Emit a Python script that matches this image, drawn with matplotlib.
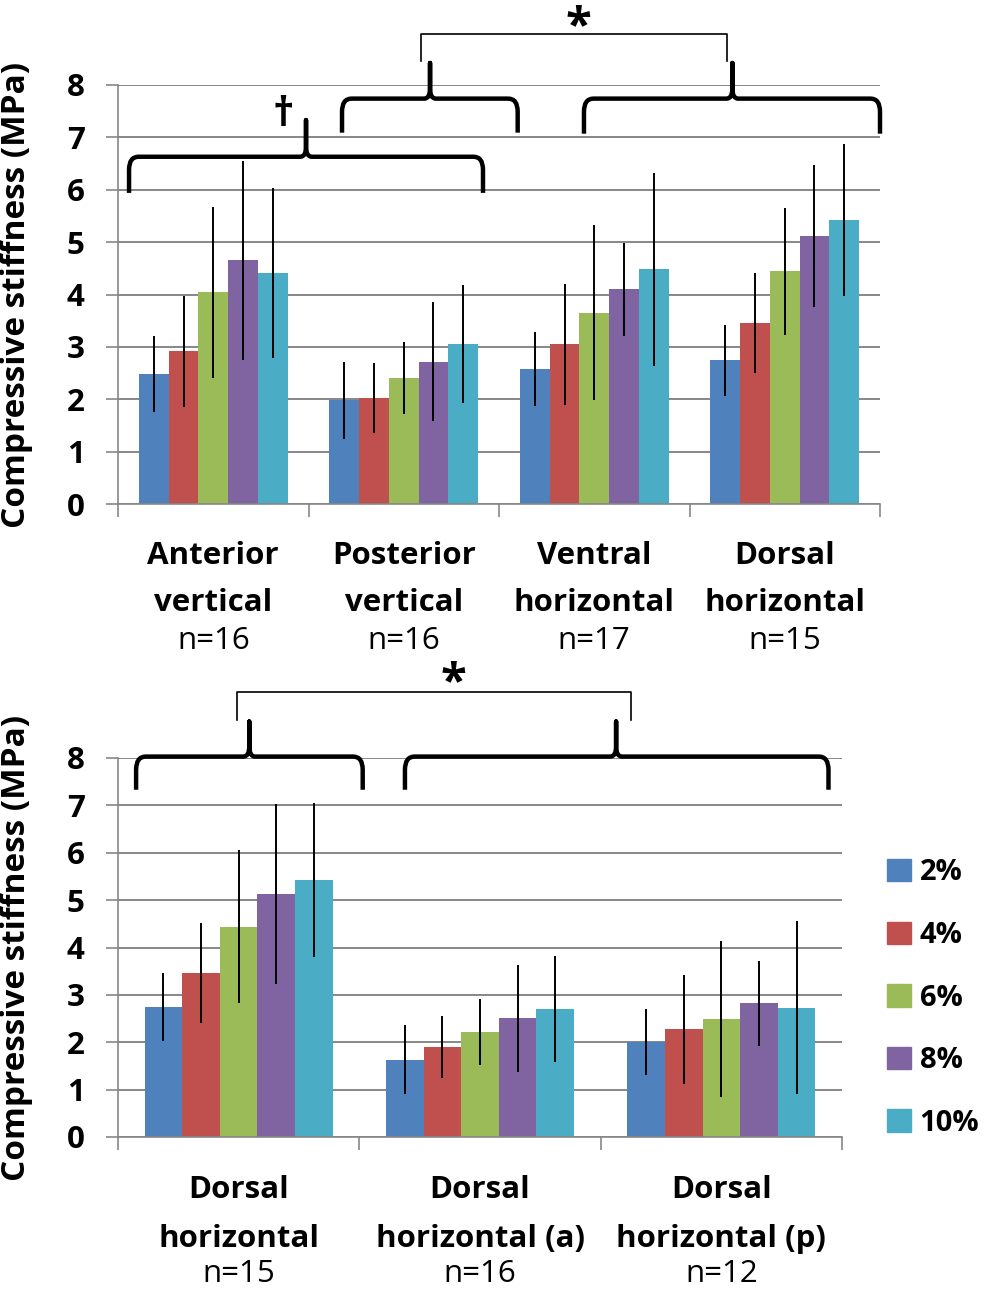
import numpy as np
import matplotlib
matplotlib.use("Agg")
import matplotlib.pyplot as plt
from matplotlib.path import Path
from matplotlib.patches import PathPatch, Patch

plt.rcParams['font.family'] = ['Open Sans', 'DejaVu Sans']

strains = ["2%", "4%", "6%", "8%", "10%"]
colors = ["#4F81BD", "#C0504D", "#9BBB59", "#8064A2", "#4BACC6"]

# top panel
top_groups = ["Anterior\nvertical", "Posterior\nvertical", "Ventral\nhorizontal", "Dorsal\nhorizontal"]
top_n = ["n=16", "n=16", "n=17", "n=15"]
top_means = [
    [2.48, 1.98, 2.58, 2.74],   # 2%
    [2.92, 2.03, 3.05, 3.46],   # 4%
    [4.04, 2.41, 3.65, 4.44],   # 6%
    [4.65, 2.72, 4.10, 5.12],   # 8%
    [4.41, 3.05, 4.48, 5.43],   # 10%
]
top_err = [
    [0.72, 0.73, 0.71, 0.68],
    [1.06, 0.67, 1.16, 0.95],
    [1.63, 0.69, 1.67, 1.21],
    [1.90, 1.13, 0.89, 1.35],
    [1.63, 1.13, 1.84, 1.45],
]

# bottom panel
bot_groups = ["Dorsal\nhorizontal", "Dorsal\nhorizontal (a)", "Dorsal\nhorizontal (p)"]
bot_n = ["n=15", "n=16", "n=12"]
bot_means = [
    [2.74, 1.63, 2.00],
    [3.46, 1.90, 2.27],
    [4.44, 2.22, 2.49],
    [5.13, 2.51, 2.82],
    [5.43, 2.70, 2.73],
]
bot_err = [
    [0.72, 0.73, 0.70],
    [1.05, 0.66, 1.15],
    [1.62, 0.69, 1.65],
    [1.89, 1.13, 0.89],
    [1.63, 1.12, 1.82],
]

GRID = "#878787"
BAR_W = 0.156
LABEL_FS = 22.5


def brace(ax, x0, x1, xc, y_line, y_end, y_tip, rx=0.05, ry=0.25):
    # curly brace opening downward, tip pointing up at xc
    verts = [
        (x0, y_end), (x0, y_line - ry), (x0, y_line), (x0 + rx, y_line),
        (xc - rx * 0.6, y_line), (xc, y_line), (xc, y_line + ry * 0.8), (xc, y_tip),
        (xc, y_line + ry * 0.8), (xc, y_line), (xc + rx * 0.6, y_line),
        (x1 - rx, y_line), (x1, y_line), (x1, y_line - ry), (x1, y_end),
    ]
    codes = [Path.MOVETO, Path.LINETO, Path.CURVE3, Path.CURVE3,
             Path.LINETO, Path.CURVE3, Path.CURVE3, Path.LINETO,
             Path.LINETO, Path.CURVE3, Path.CURVE3,
             Path.LINETO, Path.CURVE3, Path.CURVE3, Path.LINETO]
    ax.add_patch(PathPatch(Path(verts, codes), fill=False, lw=3.2, color="black",
                           clip_on=False, capstyle="butt", joinstyle="round"))


def bracket(ax, xa, xb, y_top, y_bot):
    ax.plot([xa, xa, xb, xb], [y_bot, y_top, y_top, y_bot], color="black", lw=1.2,
            clip_on=False)


def draw_panel(ax, groups, ns, means, errs, ylab_x, lab_y):
    x = np.arange(len(groups))
    for i in range(len(strains)):
        pos = x + (i - 2) * BAR_W
        ax.bar(pos, means[i], BAR_W, color=colors[i], zorder=2, label=strains[i])
        ax.errorbar(pos, means[i], yerr=errs[i], fmt="none", ecolor="black",
                    elinewidth=1.4, capsize=0, zorder=3)
    ax.set_xlim(-0.5, len(groups) - 0.5)
    ax.set_ylim(0, 8)
    ax.set_yticks(range(9))
    ax.yaxis.grid(True, color=GRID, lw=1.4, zorder=0)
    ax.set_axisbelow(True)
    ax.set_xticks(np.arange(len(groups) + 1) - 0.5)
    ax.set_xticklabels([])
    ax.tick_params(axis="both", direction="out", length=9, width=1.2, color=GRID)
    ax.tick_params(axis="y", pad=15, labelsize=22.5)
    for lab in ax.get_yticklabels():
        lab.set_fontweight("bold")
    for s in ["top", "right"]:
        ax.spines[s].set_visible(False)
    for s in ["left", "bottom"]:
        ax.spines[s].set_color(GRID)
        ax.spines[s].set_linewidth(1.2)
    ax.set_ylabel("Compressive stiffness (MPa)", fontsize=24, fontweight="bold")
    ax.yaxis.set_label_coords(ylab_x, 0.5)
    for j, g in enumerate(groups):
        l1, l2 = g.split("\n")
        ax.text(j, lab_y[0], l1, ha="center", va="center", fontsize=LABEL_FS,
                fontweight="bold", clip_on=False)
        ax.text(j, lab_y[1], l2, ha="center", va="center", fontsize=LABEL_FS,
                fontweight="bold", clip_on=False)
        ax.text(j, lab_y[2], ns[j], ha="center", va="center", fontsize=LABEL_FS,
                clip_on=False)


fig = plt.figure(figsize=(9.92, 12.89), dpi=100)
ax1 = fig.add_axes([118 / 992, 1 - 504 / 1289, 762 / 992, 419 / 1289])
ax2 = fig.add_axes([118 / 992, 1 - 1137 / 1289, 724 / 992, 379 / 1289])

draw_panel(ax1, top_groups, top_n, top_means, top_err, -0.112, [-0.99, -1.89, -2.62])
draw_panel(ax2, bot_groups, bot_n, bot_means, bot_err, -0.118, [-1.11, -2.15, -2.89])

# significance marks, top panel
brace(ax1, -0.442, 1.416, 0.487, 6.63, 5.94, 7.33)
brace(ax1, 0.676, 1.598, 1.138, 7.74, 7.09, 8.42)
brace(ax1, 1.946, 3.5, 2.725, 7.74, 7.07, 8.42)
bracket(ax1, 1.09, 2.695, 8.98, 8.46)
ax1.text(0.366, 7.42, "†", ha="center", va="center", fontsize=30, fontweight="bold",
         clip_on=False)
ax1.text(1.915, 9.1, "*", ha="center", va="center", fontsize=34, fontweight="bold",
         clip_on=False)

# significance marks, bottom panel
brace(ax2, -0.425, 0.514, 0.044, 8.03, 7.33, 8.77, rx=0.04, ry=0.28)
brace(ax2, 0.689, 2.444, 1.564, 8.03, 7.33, 8.77, rx=0.04, ry=0.28)
bracket(ax2, -0.006, 1.625, 9.39, 8.81)
ax2.text(0.888, 9.57, "*", ha="center", va="center", fontsize=34, fontweight="bold",
         clip_on=False)

handles = [Patch(color=c) for c in colors]
leg = fig.legend(handles, strains, loc="center left", bbox_to_anchor=(0.877, 1 - 998 / 1289),
                 frameon=False, prop={"size": 21, "weight": "bold"}, borderpad=0.1,
                 handlelength=0.8, handleheight=0.8, handletextpad=0.3, labelspacing=1.15)

fig.savefig("out.png", dpi=100)
